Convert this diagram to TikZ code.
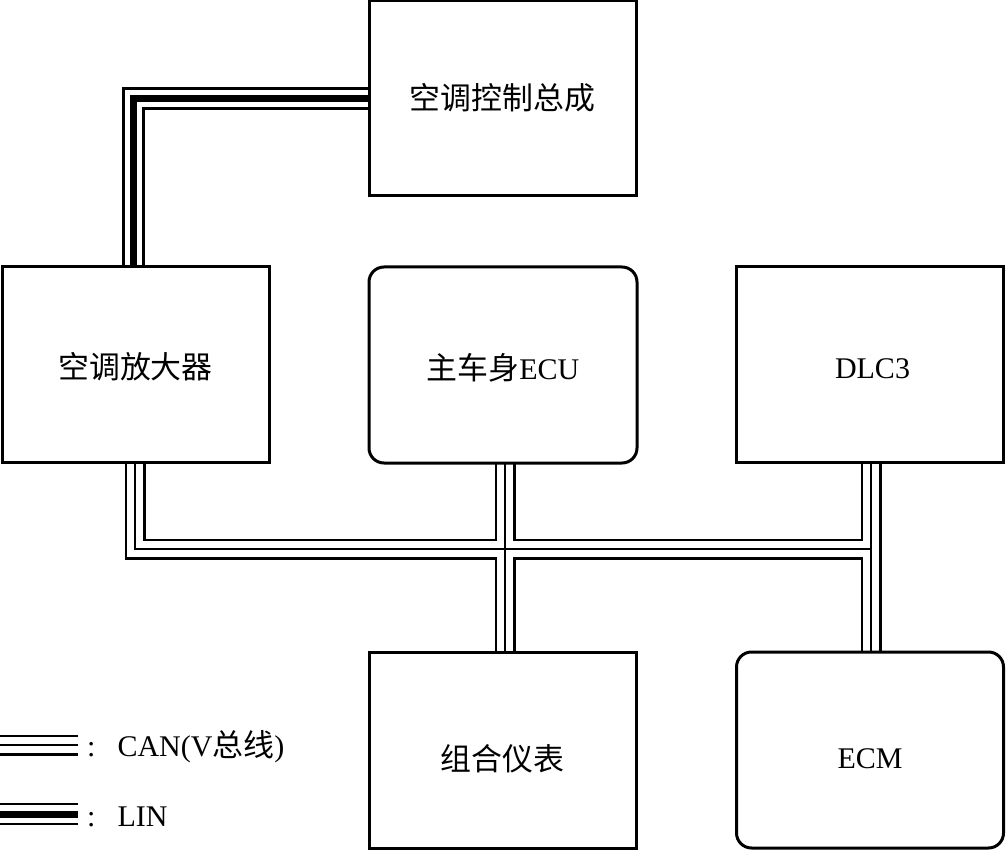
\documentclass[tikz,border=0pt]{standalone}
\usepackage{fontspec}
\setmainfont{Liberation Serif}
\newfontfamily\cjk[Scale=1.03]{Noto Sans CJK SC}
\usetikzlibrary{backgrounds}
\newcommand\boxtext[2]{\smash{\raisebox{-#1pt}{#2}}}
\begin{document}
\begin{tikzpicture}[x=1pt,y=-1pt,
  font=\fontsize{30}{36}\selectfont,
  box/.style={draw, line width=3pt, minimum width=267pt, minimum height=195pt, inner sep=0pt, outer sep=0pt},
  rbox/.style={box, rounded corners=15pt}]
\useasboundingbox (0,0) rectangle (1007,850);

\node[box] (acctrl) at (502.5,98.5) {\boxtext{11}{\cjk 空调控制总成}};
\node[box] (acamp) at (135.5,364.5) {\boxtext{14}{\cjk 空调放大器}};
\node[rbox, minimum width=268pt, minimum height=196pt] (bcm) at (503,365) {\boxtext{14}{{\cjk 主车身}ECU}};
\node[box] (dlc) at (870,364.5) {\boxtext{13.5}{\hspace{5pt}DLC3}};
\node[box, minimum height=196pt] (meter) at (502.5,750) {\boxtext{20}{\cjk 组合仪表}};
\node[rbox, minimum height=196pt] (ecm) at (870,750) {\boxtext{18}{ECM}};

\coordinate (j2) at (871,549);
\coordinate (canL) at (0,745);
\coordinate (canR) at (78,745);
\coordinate (linL) at (0,814);
\coordinate (linR) at (78,814);

\node[anchor=west, inner sep=0pt] (canlbl) at (87,747) {:\hspace{22pt}CAN(V{\cjk 总线})};
\node[anchor=west, inner sep=0pt] (linlbl) at (87,817) {:\hspace{22pt}LIN};

\begin{pgfonlayer}{background}
  % CAN bus (three thin lines)
  \foreach \w/\c in {21/black, 15.6/white, 2.7/black}{
    \draw[line width=\w pt, \c] ([xshift=-0.5pt]acamp.south) |- (j2);
    \draw[line width=\w pt, \c] ([xshift=2pt]bcm.south) -- ([xshift=2.5pt]meter.north);
    \draw[line width=\w pt, \c] ([xshift=1pt]dlc.south) -- ([xshift=1pt]ecm.north);
    \draw[line width=\w pt, \c] (canL) -- (canR);
  }
  % LIN (two thin lines with thick centre)
  \foreach \w/\c in {22.5/black, 17.5/white, 7/black}{
    \draw[line width=\w pt, \c] (acctrl.west) -| ([xshift=-2pt]acamp.north);
    \draw[line width=\w pt, \c] (linL) -- (linR);
  }
\end{pgfonlayer}
\end{tikzpicture}
\end{document}
